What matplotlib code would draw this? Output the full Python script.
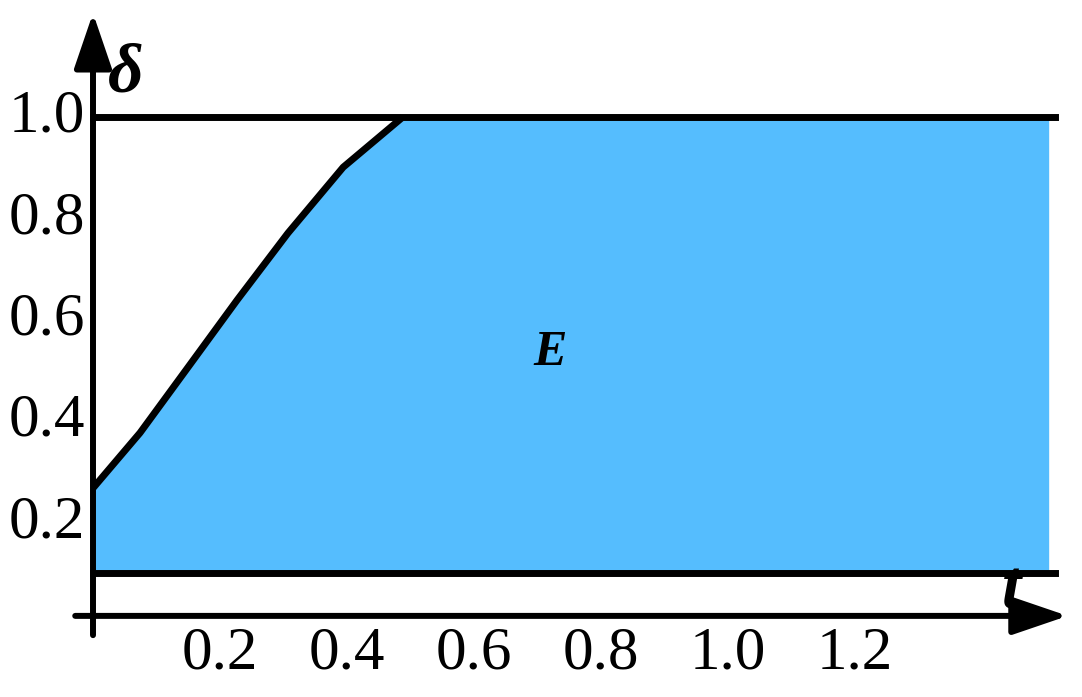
import matplotlib
matplotlib.use("Agg")
import matplotlib.pyplot as plt

plt.rcParams['font.family'] = ['Liberation Serif', 'DejaVu Serif']

# boundary of region E (upper edge), lower edge and right end
t_edge = [0.0, 0.074, 0.150, 0.227, 0.307, 0.394, 0.488]
d_edge = [0.268, 0.377, 0.507, 0.639, 0.771, 0.901, 1.0]
d_low = 0.1
d_high = 1.0
t_end = 1.505

xticks = [0.2, 0.4, 0.6, 0.8, 1.0, 1.2]
xlabels = ['0.2', '0.4', '0.6', '0.8', '1.0', '1.2']
yticks = [0.2, 0.4, 0.6, 0.8, 1.0]
ylabels = ['0.2', '0.4', '0.6', '0.8', '1.0']

fill_color = '#55BDFE'

fig = plt.figure(figsize=(10.82, 6.97), dpi=100)
ax = fig.add_axes([0, 0, 1, 1])
ax.set_xlim(-93 / 635, (1082 - 93) / 635)
ax.set_ylim((624 - 697) / 507, 624 / 507)
ax.axis('off')

# shaded region
t_fill = t_edge + [t_end]
d_fill = d_edge + [d_high]
ax.fill_between(t_fill, d_low, d_fill, color=fill_color, lw=0, zorder=1)

# boundary lines
ax.plot(t_edge, d_edge, color='k', lw=5, solid_capstyle='butt',
        solid_joinstyle='round', zorder=3)
ax.plot([0, t_end + 0.01], [d_high, d_high], color='k', lw=5, zorder=3)
ax.plot([0, t_end + 0.01], [d_low, d_low], color='k', lw=5, zorder=3)

# axes with arrows
arrow = dict(arrowstyle='-|>,head_length=1.7,head_width=0.58', lw=4.3,
             color='k', mutation_scale=20, shrinkA=0, shrinkB=0)
ax.annotate('', xy=(1.535, 0.016), xytext=(-0.028, 0.016), arrowprops=arrow, zorder=4)
ax.annotate('', xy=(0, 1.205), xytext=(0, -0.022), arrowprops=arrow, zorder=4)

# tick labels
for t, lab in zip(xticks, xlabels):
    ax.text(t, -0.059, lab, fontsize=44, ha='center', va='center')
for d, lab in zip(yticks, ylabels):
    ax.text(-0.013, d, lab, fontsize=44, ha='right', va='center')

# axis names and region label
ax.text(0.052, 1.083, 'δ', fontsize=50, ha='center', va='center',
        fontweight='bold', fontstyle='italic', zorder=5)
ax.text(1.447, 0.065, 't', fontsize=50, ha='center', va='center',
        fontweight='bold', fontstyle='italic', zorder=5)
ax.text(0.72, 0.535, 'E', fontsize=36, ha='center', va='center',
        fontweight='bold', fontstyle='italic', zorder=5)

fig.savefig('out.png', dpi=100)
